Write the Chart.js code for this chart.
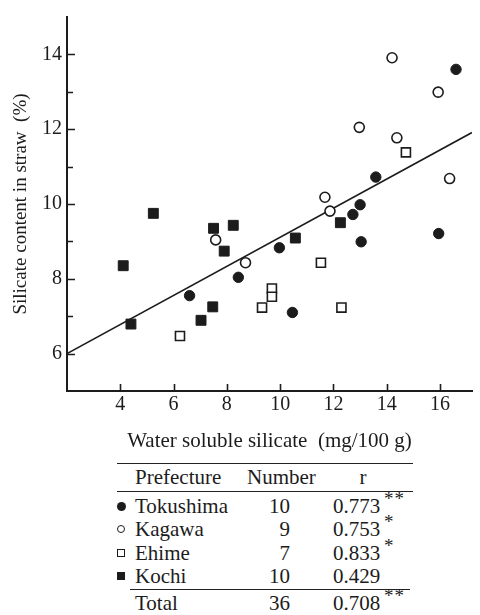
<!DOCTYPE html>
<html>
<head>
<meta charset="utf-8">
<script src="https://cdn.jsdelivr.net/npm/chart.js@4/dist/chart.umd.min.js"></script>
<style>
  body { margin: 0; background: #fff; }
  #wrap { position: relative; width: 480px; height: 615px; font-family: "Liberation Serif", "Times New Roman", serif; color: #1c1c1c; overflow: hidden; }
  #chartBox { position: absolute; left: 0; top: 0; width: 480px; height: 455px; }
  .t { position: absolute; font-size: 21px; line-height: 24px; white-space: nowrap; }
  .rule { position: absolute; height: 0; border-top: 1.6px solid #222; }
  .st { position: absolute; font-size: 19px; line-height: 19px; }
  .mk { position: absolute; box-sizing: border-box; }
</style>
</head>
<body>
<div id="wrap">
  <div id="chartBox"><canvas id="c" width="480" height="455"></canvas></div>
</div>
<script>
// ---- data ----
const tokushimaX = [6.60, 8.43, 9.97, 10.46, 12.73, 13.00, 13.04, 13.59, 16.60, 15.95];
const tokushimaY = [7.55, 8.04, 8.83, 7.10, 9.72, 9.98, 8.99, 10.72, 13.60, 9.21];
const kagawaX = [7.58, 8.70, 14.20, 15.93, 12.97, 14.38, 16.36, 11.68, 11.87];
const kagawaY = [9.04, 8.43, 13.91, 12.99, 12.05, 11.77, 10.68, 10.18, 9.81];
const ehimeX = [6.24, 9.69, 9.69, 9.32, 11.53, 12.30, 14.72];
const ehimeY = [6.47, 7.74, 7.52, 7.23, 8.43, 7.23, 11.38];
const kochiX = [5.24, 7.50, 8.24, 7.90, 4.11, 7.47, 7.03, 4.40, 10.57, 12.26];
const kochiY = [9.75, 9.35, 9.43, 8.74, 8.35, 7.25, 6.89, 6.79, 9.09, 9.50];
const lineX = [2.0, 17.2];
const lineY = [6.00, 11.91];

const xTicks = [4, 6, 8, 10, 12, 14, 16];
const yTicks = [6, 8, 10, 12, 14];
const yMinorTicks = [7, 9, 11, 13];

const xTitle = 'Water soluble silicate  (mg/100 g)';
const yTitle = 'Silicate content in straw  (%)';

// table
const tableHeader = ['Prefecture', 'Number', 'r'];
const prefectures = ['Tokushima', 'Kagawa', 'Ehime', 'Kochi', 'Total'];
const counts = ['10', '9', '7', '10', '36'];
const rValues = ['0.773', '0.753', '0.833', '0.429', '0.708'];
const rStars = ['**', '*', '*', '', '**'];
const markerKinds = ['fillCircle', 'openCircle', 'openSquare', 'fillSquare', ''];

const pts = (xs, ys) => xs.map((v, i) => ({ x: v, y: ys[i] }));
const INK = '#1c1c1c';
const serif = '"Liberation Serif", "Times New Roman", serif';

const innerTicks = {
  id: 'innerTicks',
  afterDraw(chart) {
    const { ctx, chartArea: a, scales: { x, y } } = chart;
    ctx.save();
    ctx.strokeStyle = INK;
    ctx.lineWidth = 1.6;
    ctx.beginPath();
    yTicks.forEach(v => { const p = Math.round(y.getPixelForValue(v)) + 0.5; ctx.moveTo(a.left, p); ctx.lineTo(a.left + 8, p); });
    yMinorTicks.forEach(v => { const p = Math.round(y.getPixelForValue(v)) + 0.5; ctx.moveTo(a.left, p); ctx.lineTo(a.left + 6, p); });
    xTicks.forEach(v => { const p = Math.round(x.getPixelForValue(v)) + 0.5; ctx.moveTo(p, a.bottom); ctx.lineTo(p, a.bottom - 7); });
    ctx.stroke();
    ctx.restore();
  }
};

new Chart(document.getElementById('c'), {
  type: 'scatter',
  data: {
    datasets: [
      { label: 'Tokushima', data: pts(tokushimaX, tokushimaY), pointStyle: 'circle', pointRadius: 5.2, backgroundColor: INK, borderColor: INK, borderWidth: 1 },
      { label: 'Kagawa', data: pts(kagawaX, kagawaY), pointStyle: 'circle', pointRadius: 5, backgroundColor: '#fff', borderColor: INK, borderWidth: 1.6 },
      { label: 'Ehime', data: pts(ehimeX, ehimeY), pointStyle: 'rect', pointRadius: 6.4, backgroundColor: '#fff', borderColor: INK, borderWidth: 1.6 },
      { label: 'Kochi', data: pts(kochiX, kochiY), pointStyle: 'rect', pointRadius: 7, backgroundColor: INK, borderColor: INK, borderWidth: 1 },
      { type: 'line', label: 'fit', data: pts(lineX, lineY), borderColor: INK, borderWidth: 1.7, pointRadius: 0, fill: false, tension: 0 }
    ]
  },
  options: {
    responsive: false,
    animation: false,
    events: [],
    layout: { padding: { top: 9, right: 0, left: 0, bottom: 0 } },
    plugins: { legend: { display: false }, tooltip: { enabled: false } },
    scales: {
      x: {
        type: 'linear', min: 2, max: 17.2,
        afterBuildTicks: s => { s.ticks = xTicks.map(v => ({ value: v })); },
        afterFit: s => { s.height = 64; },
        grid: { display: true, drawOnChartArea: false, drawTicks: false },
        border: { display: true, color: INK, width: 2 },
        ticks: { color: INK, font: { family: serif, size: 20 }, padding: 2, maxRotation: 0, autoSkip: false },
        title: { display: true, text: xTitle, color: INK, font: { family: serif, size: 21 }, padding: { top: 0, bottom: 1 } }
      },
      y: {
        type: 'linear', min: 5, max: 15,
        afterBuildTicks: s => { s.ticks = yTicks.map(v => ({ value: v })); },
        afterFit: s => { s.width = 67; },
        grid: { display: true, drawOnChartArea: false, drawTicks: false },
        border: { display: true, color: INK, width: 2 },
        ticks: { color: INK, font: { family: serif, size: 20 }, padding: 5, autoSkip: false },
        title: { display: true, text: yTitle, color: INK, font: { family: serif, size: 19 }, padding: { top: 10, bottom: 0 } }
      }
    }
  },
  plugins: [innerTicks]
});

// ---- table built from the arrays ----
const wrap = document.getElementById('wrap');
function add(cls, text, style) {
  const d = document.createElement('div');
  d.className = cls;
  if (text !== null) d.textContent = text;
  Object.assign(d.style, style);
  wrap.appendChild(d);
  return d;
}
add('rule', null, { left: '117px', top: '463px', width: '296px' });
add('rule', null, { left: '117px', top: '491px', width: '296px' });
add('rule', null, { left: '130px', top: '589px', width: '280px' });

add('t', tableHeader[0], { left: '135px', top: '465px' });
add('t', tableHeader[1], { left: '247px', top: '465px', width: '66px', textAlign: 'center' });
add('t', tableHeader[2], { left: '343px', top: '465px', width: '40px', textAlign: 'center' });

const rowTops = [494, 517, 541, 564, 591];
prefectures.forEach((name, i) => {
  const top = rowTops[i];
  add('t', name, { left: '135px', top: top + 'px' });
  add('t', counts[i], { left: '240px', top: top + 'px', width: '50px', textAlign: 'right' });
  add('t', rValues[i], { left: '333px', top: top + 'px' });
  if (rStars[i]) add('st', rStars[i], { left: '384px', top: (top - 5) + 'px', letterSpacing: '1px' });
  const k = markerKinds[i];
  if (k) {
    const cy = top + 12;
    const s = { width: '9px', height: '9px', left: '117px', top: (cy - 4.5) + 'px' };
    if (k === 'fillCircle') Object.assign(s, { background: INK, borderRadius: '50%' });
    if (k === 'openCircle') Object.assign(s, { border: '1.5px solid ' + INK, borderRadius: '50%', width: '8px', height: '8px', top: (cy - 4) + 'px' });
    if (k === 'openSquare') Object.assign(s, { border: '1.5px solid ' + INK, width: '8px', height: '8px', top: (cy - 4) + 'px' });
    if (k === 'fillSquare') Object.assign(s, { background: INK, width: '8px', height: '8px', top: (cy - 4) + 'px' });
    add('mk', null, s);
  }
});
</script>
</body>
</html>
